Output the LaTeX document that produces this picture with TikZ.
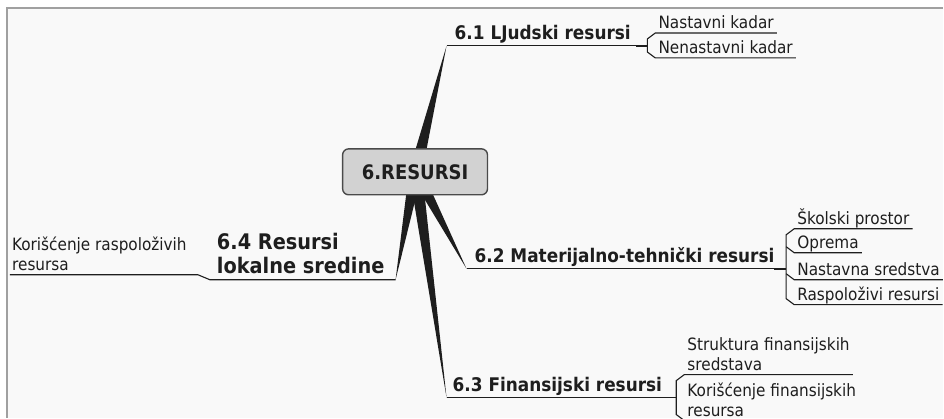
\documentclass[tikz,border=0pt]{standalone}
\usepackage{fontspec}
\setmainfont{DejaVu Sans Condensed}
\usetikzlibrary{calc}
\definecolor{ink}{HTML}{1E1E1E}
\definecolor{boxfill}{HTML}{D2D2D2}
\definecolor{boxline}{HTML}{4A4A4A}
\definecolor{framegray}{HTML}{A0A0A0}
\definecolor{paper}{HTML}{F9F9F9}
\begin{document}
\begin{tikzpicture}[x=1pt,y=-1pt,
  central/.style={draw=boxline, fill=boxfill, line width=1.4pt, rounded corners=6pt,
    minimum width=145pt, minimum height=46pt, inner sep=0pt, text=ink,
    font=\bfseries\fontsize{20}{24}\selectfont},
  topic/.style={font=\bfseries\fontsize{18.8}{22}\selectfont, text=ink, anchor=south west,
    inner xsep=0pt, inner ysep=6pt, text depth=0pt},
  bigtopic/.style={topic, font=\bfseries\fontsize{21.5}{24}\selectfont, align=left},
  leaf/.style={font=\fontsize{17}{20}\selectfont, text=ink, anchor=south west,
    inner xsep=3pt, inner ysep=4pt, text depth=0pt, align=left},
  link/.style={draw=ink, line width=1.1pt},
  stub/.style={draw=ink, line width=1.6pt},
  wedge/.style={fill=ink}]

% paper and frame
\fill[white] (0,0) rectangle (944,418);
\fill[paper] (7,8) rectangle (944,418);
\draw[framegray, line width=2pt] (7,418) -- (7,8) -- (944,8);
\useasboundingbox (0,0) rectangle (944,418);

% branch roots and tips
\coordinate (hub) at (416,172);
\coordinate (t1) at (447,46);
\coordinate (t2) at (467,269);
\coordinate (t3) at (447,398);
\coordinate (t4) at (396,280);

% tapered branches
\foreach \t in {t1,t2,t3,t4}
  \fill[wedge] ($(hub)!6.5pt!90:(\t)$) -- (\t) -- ($(hub)!6.5pt!-90:(\t)$) -- cycle;

% central topic
\node[central] (root) at (415.5,172) {6.RESURSI};

% bracket joints
\coordinate (k1) at (648,46);
\coordinate (k2) at (787,269);
\coordinate (k3) at (677,398);

% main topics
\node[topic] (b1) at (455,46) {6.1 LJudski resursi};
\node[topic] (b2) at (475,269) {6.2 Materijalno-tehnički resursi};
\node[topic] (b3) at (453,398) {6.3 Finansijski resursi};
\node[bigtopic] (b4) at (217,280) {6.4 Resursi\\lokalne sredine};

\draw[link] (t1) -- (637,46);
\draw[stub] (637,46) -- (k1);
\draw[link] (t2) -- (775,269);
\draw[stub] (775,269) -- (k2);
\draw[link] (t3) -- (665,398);
\draw[stub] (665,398) -- (k3);

% 6.1 leaves
\node[leaf] (l11) at (656,33) {Nastavni kadar};
\node[leaf] (l12) at (656,58) {Nenastavni kadar};
\draw[link] (l11.south east) -- (l11.south west) -- (648,39) -- (648,52) -- (l12.south west) -- (l12.south east);

% 6.2 leaves
\node[leaf] (l21) at (795,229) {Školski prostor};
\node[leaf] (l22) at (795,253) {Oprema};
\node[leaf] (l23) at (795,280) {Nastavna sredstva};
\node[leaf] (l24) at (795,305) {Raspoloživi resursi};
\draw[link] (l21.south east) -- (l21.south west) -- (787,235) -- (787,299) -- (l24.south west) -- (l24.south east);
\draw[link] (787,247) -- (l22.south west) -- (l22.south east);
\draw[link] (787,274) -- (l23.south west) -- (l23.south east);

% 6.3 leaves
\node[leaf] (l31) at (685,375) {Struktura finansijskih\\sredstava};
\node[leaf] (l32) at (685,421) {Korišćenje finansijskih\\resursa};
\draw[link] (l31.south east) -- (l31.south west) -- (677,381) -- (677,415) -- (l32.south west) -- (l32.south east);

% 6.4 leaf
\node[leaf, inner xsep=2pt] (l41) at (10,275) {Korišćenje raspoloživih\\resursa};
\draw[link] (t4) -- (210,280) -- (198,275) -- (l41.south west);
\end{tikzpicture}
\end{document}
